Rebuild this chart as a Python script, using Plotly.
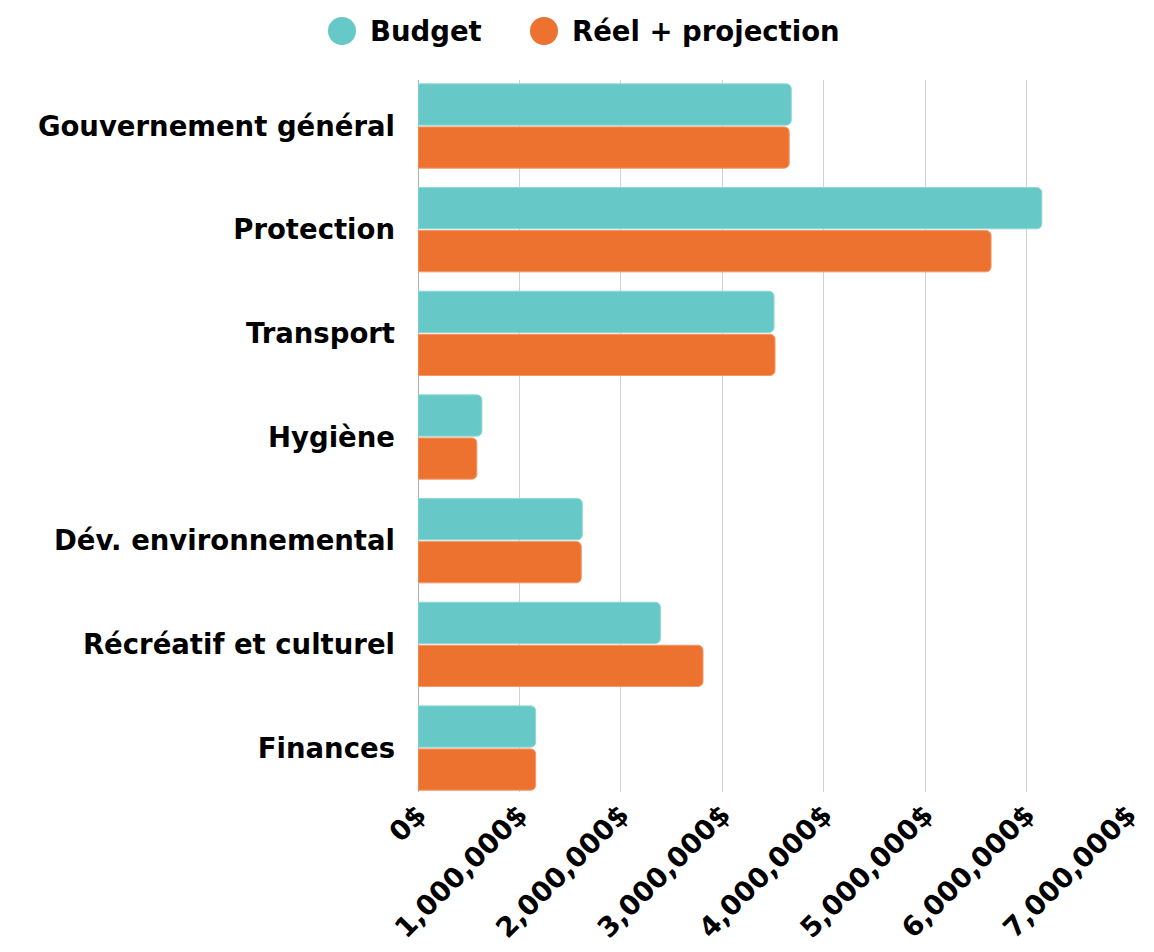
import plotly.graph_objects as go

categories = ["Gouvernement général", "Protection", "Transport", "Hygiène",
              "Dév. environnemental", "Récréatif et culturel", "Finances"]
budget = [3680000, 6150000, 3510000, 630000, 1620000, 2390000, 1160000]
reel = [3660000, 5650000, 3520000, 580000, 1610000, 2810000, 1160000]
tick_vals = [0, 1000000, 2000000, 3000000, 4000000, 5000000, 6000000, 7000000]
tick_text = ["0$", "1,000,000$", "2,000,000$", "3,000,000$", "4,000,000$",
             "5,000,000$", "6,000,000$", "7,000,000$"]
series_names = ["Budget", "Réel + projection"]

TEAL = "#67C9C7"
ORANGE = "#ED7230"
FONT = "DejaVu Sans"
OFF = 8  # page body margin
W, H = 1154 - OFF, 952 - OFF
ML, MR, MT, MB = 418 - OFF, 26, 80 - OFF, 160
PW = W - ML - MR
PH = H - MT - MB

fig = go.Figure()
fig.add_trace(go.Bar(y=categories, x=budget, orientation="h", name=series_names[0],
                     marker=dict(color=TEAL, line=dict(color="#8fd8d6", width=1)),
                     showlegend=False))
fig.add_trace(go.Bar(y=categories, x=reel, orientation="h", name=series_names[1],
                     marker=dict(color=ORANGE, line=dict(color="#f29a6a", width=1)),
                     showlegend=False))

# manual legend with large circle markers (pixel positions converted to paper coords)
def px_x(p):
    return (p - OFF - ML) / PW

def px_y(p):
    return (H - MB - (p - OFF)) / PH

legend_items = [(342, 368, TEAL, series_names[0]), (544, 570, ORANGE, series_names[1])]
for cx, tx, col, label in legend_items:
    fig.add_shape(type="circle", xref="paper", yref="paper",
                  xsizemode="pixel", ysizemode="pixel",
                  xanchor=px_x(cx), yanchor=px_y(31),
                  x0=-14, x1=14, y0=-14, y1=14,
                  fillcolor=col, line=dict(width=0))
    fig.add_annotation(x=px_x(tx), y=px_y(31), xref="paper", yref="paper",
                       text=label, showarrow=False, xanchor="left", yanchor="middle",
                       font=dict(family=FONT, size=27.5, color="black", weight="bold"))

fig.update_layout(
    width=W, height=H,
    paper_bgcolor="white", plot_bgcolor="white",
    font=dict(family=FONT, size=27.5, color="black"),
    barmode="group", bargap=0.17, bargroupgap=0.04,
    barcornerradius=5,
    margin=dict(l=ML, r=MR, t=MT, b=MB),
    showlegend=False,
    xaxis=dict(range=[0, 7000000], tickvals=tick_vals, ticktext=tick_text,
               tickangle=-45, showgrid=True, gridcolor="#d0d0d0", gridwidth=1,
               zeroline=True, zerolinecolor="#b0b0b0", zerolinewidth=1,
               tickfont=dict(family=FONT, size=27.5, color="black", weight="bold"),
               showline=False, ticks="", automargin=False),
    yaxis=dict(range=[6.424, -0.444], categoryorder="array", categoryarray=categories,
               tickfont=dict(family=FONT, size=27.5, color="black", weight="bold"),
               ticks="", showgrid=False, ticklabelstandoff=22, automargin=False),
)

fig.write_html("out.html")
